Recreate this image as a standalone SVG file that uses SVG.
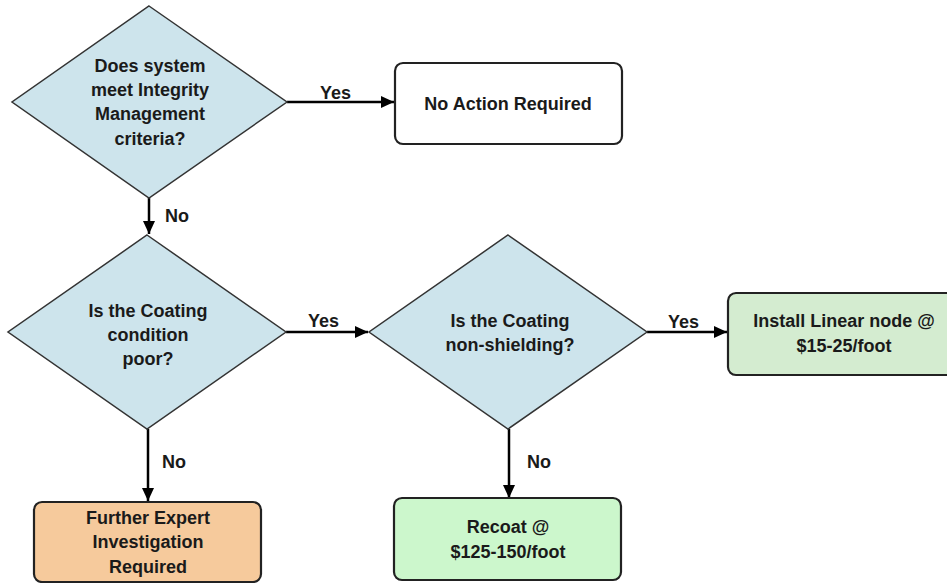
<svg xmlns="http://www.w3.org/2000/svg" width="947" height="583" viewBox="0 0 947 583">
<style>
text{font-family:"Liberation Sans",Arial,sans-serif;font-weight:bold;font-size:18px;fill:#1a1a1a;text-anchor:middle}
.lbl{text-anchor:start}
.dia{fill:#cde4ec;stroke:#333;stroke-width:1.5}
.box{stroke:#222;stroke-width:2.2}
.edge{stroke:#000;stroke-width:2.5;fill:none}
</style>
<defs>
<marker id="ah" markerUnits="userSpaceOnUse" markerWidth="14" markerHeight="12" refX="13" refY="6" orient="auto">
<path d="M0,0 L13,6 L0,12 Z" fill="#000"/>
</marker>
</defs>
<rect width="947" height="583" fill="#fff"/>
<g id="connectors">
<line class="edge" x1="287" y1="102" x2="394" y2="102" marker-end="url(#ah)"/>
<text class="lbl" x="320" y="99">Yes</text>
<line class="edge" x1="149" y1="198" x2="149" y2="234" marker-end="url(#ah)"/>
<text class="lbl" x="165" y="222">No</text>
<line class="edge" x1="286" y1="332" x2="368" y2="332" marker-end="url(#ah)"/>
<text class="lbl" x="308" y="327">Yes</text>
<line class="edge" x1="647" y1="332" x2="727" y2="332" marker-end="url(#ah)"/>
<text class="lbl" x="668" y="328">Yes</text>
<line class="edge" x1="148" y1="429" x2="148" y2="501" marker-end="url(#ah)"/>
<text class="lbl" x="162" y="468">No</text>
<line class="edge" x1="509" y1="429" x2="509" y2="498" marker-end="url(#ah)"/>
<text class="lbl" x="527" y="468">No</text>
</g>
<g id="d1">
<polygon class="dia" points="149,6 287,102 149,198 12,102"/>
<text x="150" y="72">Does system</text>
<text x="150" y="96">meet Integrity</text>
<text x="150" y="120">Management</text>
<text x="150" y="145">criteria?</text>
</g>
<g id="noaction">
<rect class="box" x="395" y="63" width="227" height="81" rx="8" fill="#fff"/>
<text x="508" y="110">No Action Required</text>
</g>
<g id="d2">
<polygon class="dia" points="147,235 286,332 147,429 8,332"/>
<text x="148" y="317">Is the Coating</text>
<text x="148" y="341">condition</text>
<text x="148" y="365">poor?</text>
</g>
<g id="d3">
<polygon class="dia" points="508,235 647,332 508,429 369,332"/>
<text x="510" y="327">Is the Coating</text>
<text x="510" y="351">non-shielding?</text>
</g>
<g id="install">
<rect class="box" x="728" y="293" width="232" height="82" rx="8" fill="#d4ecd0"/>
<text x="844" y="327">Install Linear node @</text>
<text x="844" y="352">$15-25/foot</text>
</g>
<g id="further">
<rect class="box" x="34" y="502" width="227" height="80" rx="8" fill="#f6ca9c"/>
<text x="148" y="524">Further Expert</text>
<text x="148" y="548">Investigation</text>
<text x="148" y="573">Required</text>
</g>
<g id="recoat">
<rect class="box" x="394" y="498" width="227" height="82" rx="8" fill="#ccf7cc"/>
<text x="508" y="533">Recoat @</text>
<text x="508" y="558">$125-150/foot</text>
</g>
</svg>
